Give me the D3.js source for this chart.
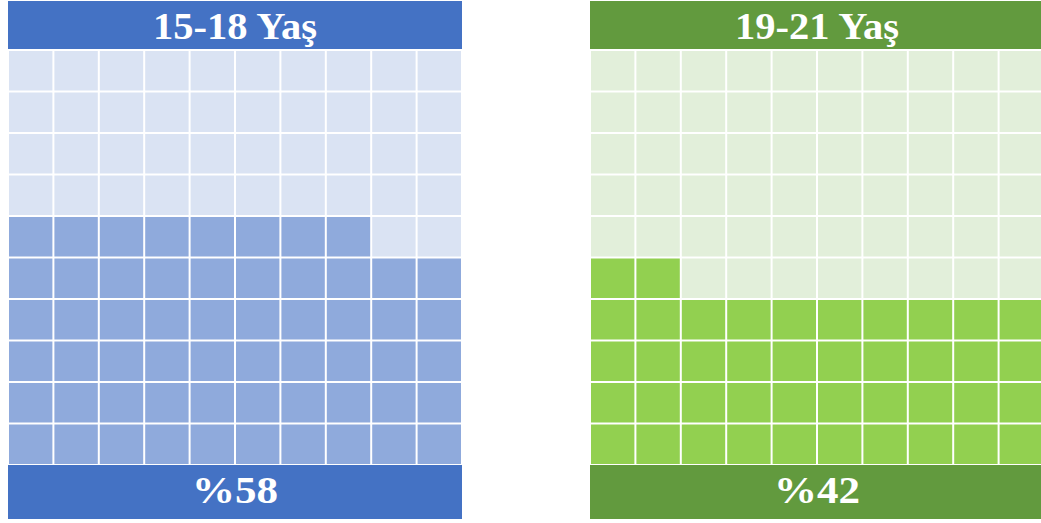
<!DOCTYPE html>
<html>
<head>
  <meta charset="utf-8">
  <script src="https://d3js.org/d3.v7.min.js"></script>
  <style>
    body { margin: 0; background: #fff; }
  </style>
</head>
<body>
<script>
  // waffle data: one panel per age group
  var groups = ["15-18 Yaş", "19-21 Yaş"];
  var percents = [58, 42];
  var headerColors = ["#4472C4", "#629A3E"];
  var fillColors = ["#8FAADC", "#92D050"];
  var emptyColors = ["#DAE3F3", "#E2EFDA"];

  var svg = d3.select("body").append("svg")
      .attr("width", 1041)
      .attr("height", 523);

  var panelX = d3.scaleOrdinal().domain(groups).range([8, 590]);
  var panelW = 454;
  var cols = d3.range(10);

  groups.forEach(function(g, gi) {
    var x0 = panelX(g);
    var p = svg.append("g").attr("class", "panel");

    var x = d3.scaleBand().domain(cols).range([x0, x0 + panelW]);
    // row 0 at the bottom
    var y = d3.scaleBand().domain(cols).range([465, 50]);

    var cells = d3.range(100).map(function(i) {
      return { row: Math.floor(i / 10), col: i % 10, on: i < percents[gi] };
    });

    p.selectAll("rect.cell")
      .data(cells)
      .enter().append("rect")
        .attr("class", "cell")
        .attr("x", function(d) { return x(d.col) + 1; })
        .attr("y", function(d) { return y(d.row) + 1; })
        .attr("width", x.bandwidth() - 2)
        .attr("height", y.bandwidth() - 2)
        .attr("fill", function(d) { return d.on ? fillColors[gi] : emptyColors[gi]; });

    p.append("rect")
      .attr("x", x0).attr("y", 1)
      .attr("width", panelW).attr("height", 48)
      .attr("fill", headerColors[gi]);

    p.append("rect")
      .attr("x", x0).attr("y", 465)
      .attr("width", panelW).attr("height", 54)
      .attr("fill", headerColors[gi]);

    // Cambria is wider than Liberation Serif, so stretch a little
    p.append("text")
      .attr("x", x0 + panelW / 2)
      .attr("y", 39)
      .attr("text-anchor", "middle")
      .attr("font-family", "'Liberation Serif', serif")
      .attr("font-weight", "bold")
      .attr("font-size", 37)
      .attr("textLength", 164)
      .attr("lengthAdjust", "spacingAndGlyphs")
      .attr("fill", "#fff")
      .text(g);

    p.append("text")
      .attr("x", x0 + panelW / 2)
      .attr("y", 503)
      .attr("text-anchor", "middle")
      .attr("font-family", "'Liberation Serif', serif")
      .attr("font-weight", "bold")
      .attr("font-size", 38)
      .attr("textLength", 86)
      .attr("lengthAdjust", "spacingAndGlyphs")
      .attr("fill", "#fff")
      .text("%" + percents[gi]);
  });
</script>
</body>
</html>
